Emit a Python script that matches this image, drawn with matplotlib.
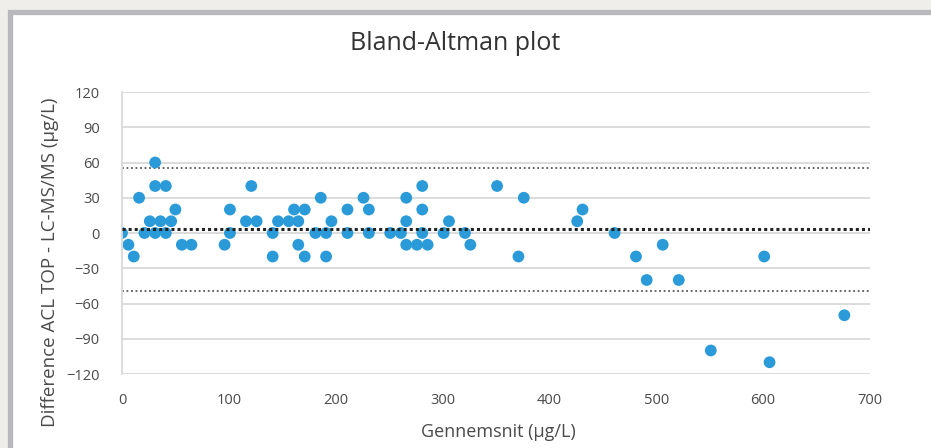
import matplotlib.pyplot as plt
from matplotlib.patches import Rectangle

# ---------------------- data ----------------------
gennemsnit = [0, 6, 11, 16, 21, 26, 31, 31, 31, 36, 41, 41, 46, 50, 56, 65, 96, 101, 101, 116,
              121, 126, 141, 141, 146, 156, 161, 165, 165, 171, 171, 181, 186, 191, 191, 196,
              211, 211, 226, 231, 231, 251, 261, 266, 266, 266, 276, 281, 281, 281, 286, 301,
              306, 321, 326, 351, 371, 376, 426, 431, 461, 481, 491, 506, 521, 551, 601, 606, 676]
difference = [0, -10, -20, 30, 0, 10, 60, 40, 0, 10, 40, 0, 10, 20, -10, -10, -10, 20, 0, 10,
              40, 10, 0, -20, 10, 10, 20, 10, -10, 20, -20, 0, 30, 0, -20, 10,
              20, 0, 30, 20, 0, 0, 0, 30, 10, -10, -10, 40, 20, 0, -10, 0,
              10, 0, -10, 40, -20, 30, 10, 20, 0, -20, -40, -10, -40, -100, -20, -110, -70]

mean_diff = 3
upper_loa = 55
lower_loa = -49

x_ticks = list(range(0, 701, 100))
y_ticks = list(range(-120, 121, 30))

text_color = '#4a4a4a'
plt.rcParams['font.family'] = ['Open Sans', 'DejaVu Sans']

fig = plt.figure(figsize=(9.31, 4.48), dpi=100)
fig.patch.set_facecolor('#efeeea')

# white panel with grey frame (cropped on right and bottom)
fig.add_artist(Rectangle((9.5 / 931, -0.05), 1.1, 1 - 12.5 / 448 + 0.05,
                         transform=fig.transFigure, facecolor='white',
                         edgecolor='#b9b9bd', linewidth=3.8, zorder=0))

ax = fig.add_axes([122 / 931, 1 - 374 / 448, (870 - 122) / 931, (374 - 92) / 448])
ax.set_facecolor('none')

# ---------------------- grid and limits ----------------------
ax.set_xlim(0, 700)
ax.set_ylim(-120, 120)
ax.set_xticks(x_ticks)
ax.set_yticks(y_ticks)
ax.yaxis.grid(True, color='#d9d9d9', linewidth=1.3)
ax.set_axisbelow(True)
for side in ['top', 'right', 'bottom']:
    ax.spines[side].set_visible(False)
ax.spines['left'].set_color('#d9d9d9')
ax.spines['left'].set_linewidth(1.3)
ax.tick_params(length=0, colors=text_color, labelsize=10.5)
ax.tick_params(axis='y', pad=16)
ax.tick_params(axis='x', pad=14)

# ---------------------- limits of agreement ----------------------
ax.axhline(upper_loa, color='#595959', linestyle=(0, (1, 1.5)), linewidth=1.3, zorder=1)
ax.axhline(lower_loa, color='#595959', linestyle=(0, (1, 1.5)), linewidth=1.3, zorder=1)
ax.axhline(mean_diff, color='#222222', linestyle=(0, (1, 1)), linewidth=2.2, zorder=3)

# ---------------------- points ----------------------
ax.scatter(gennemsnit, difference, s=72, color='#2a9ad8', edgecolors='none', zorder=2)

fig.text(455 / 931, 1 - 43 / 448, 'Bland-Altman plot', ha='center', va='center',
         fontsize=18, color='#333333')
fig.text(498 / 931, 1 - 432 / 448, 'Gennemsnit (µg/L)', ha='center', va='center',
         fontsize=13, color=text_color)
fig.text(50 / 931, 1 - 262 / 448, 'Difference ACL TOP - LC-MS/MS (µg/L)', rotation=90,
         ha='center', va='center', fontsize=13.5, color=text_color)

fig.savefig('out.png', dpi=100, facecolor=fig.get_facecolor())
